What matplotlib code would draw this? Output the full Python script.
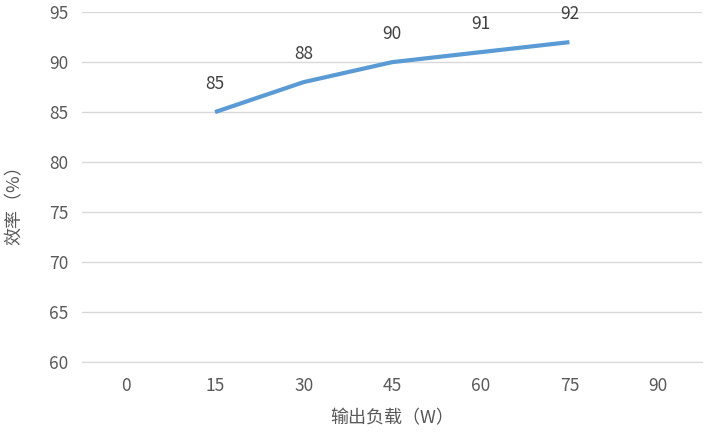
import matplotlib.pyplot as plt

plt.rcParams['font.family'] = ['Noto Sans CJK SC', 'DejaVu Sans']

categories = ['0', '15', '30', '45', '60', '75', '90']
line_cats = ['15', '30', '45', '60', '75']
efficiency = [85, 88, 90, 91, 92]
yticks = [60, 65, 70, 75, 80, 85, 90, 95]

fig = plt.figure(figsize=(7.08, 4.34), dpi=100)
ax = fig.add_axes([0.116, 0.166, 0.876, 0.806])

xpos = [categories.index(c) for c in line_cats]
ax.plot(xpos, efficiency, color='#5B9BD5', linewidth=3, solid_capstyle='butt', zorder=3)
for x, v in zip(xpos, efficiency):
    ax.annotate(str(v), (x, v), xytext=(0, 20), textcoords='offset points',
                ha='center', va='center', fontsize=12.5, color='#404040')

ax.set_xlim(-0.5, len(categories) - 0.5)
ax.set_ylim(60, 95)
ax.set_xticks(range(len(categories)))
ax.set_xticklabels(categories)
ax.set_yticks(yticks)
ax.grid(axis='y', color='#d9d9d9', linewidth=1)
ax.set_axisbelow(True)
for s in ['top', 'right', 'left']:
    ax.spines[s].set_visible(False)
ax.spines['bottom'].set_color('#d9d9d9')
ax.tick_params(length=0, labelsize=12.5, labelcolor='#595959', pad=11)
ax.tick_params(axis='y', pad=10)

ax.set_xlabel('输出负载（W）', fontsize=13, color='#595959', labelpad=10)
ax.set_ylabel('效率（%）', fontsize=13, color='#595959', labelpad=12)
ax.yaxis.set_label_coords(-0.095, 0.46)

fig.savefig('out.png', dpi=100)
